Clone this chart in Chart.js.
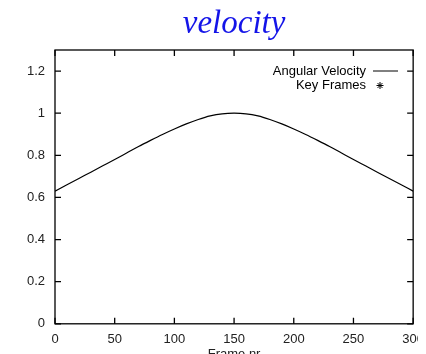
<!DOCTYPE html>
<html>
<head>
<meta charset="utf-8">
<script src="https://cdn.jsdelivr.net/npm/chart.js@4/dist/chart.umd.min.js"></script>
<style>
  body { margin: 0; background: #fff; }
  #wrap { width: 418px; height: 354px; overflow: hidden; position: relative; }
  #chart { position: absolute; left: 0; top: 0; }
</style>
</head>
<body>
<div id="wrap"><canvas id="chart" width="432" height="362"></canvas></div>
<script>
// frames and angular velocity
const frames = [0, 10, 20, 30, 40, 50, 60, 70, 80, 90, 100, 110, 120, 130, 140, 150,
  160, 170, 180, 190, 200, 210, 220, 230, 240, 250, 260, 270, 280, 290, 300];
const velocity = [0.63, 0.66, 0.69, 0.72, 0.75, 0.78, 0.811, 0.842, 0.871, 0.899, 0.925, 0.949, 0.97, 0.987, 0.997, 1.0,
  0.997, 0.987, 0.97, 0.949, 0.925, 0.899, 0.871, 0.842, 0.811, 0.78, 0.75, 0.72, 0.69, 0.66, 0.63];
const keyFrames = [];   // no key frame markers visible
const xTicks = [0, 50, 100, 150, 200, 250, 300];
const yTicks = [0, 0.2, 0.4, 0.6, 0.8, 1, 1.2];

const sans = "'Liberation Sans', Arial, sans-serif";

// gnuplot style frame, inward ticks on all sides, title and legend
const frameStuff = {
  id: "frameStuff",
  afterDraw(c) {
    const ctx = c.ctx, a = c.chartArea;
    const xs = c.scales.x, ys = c.scales.y;
    ctx.save();
    ctx.strokeStyle = "#000";
    ctx.lineWidth = 1.3;
    ctx.strokeRect(a.left, a.top, a.right - a.left, a.bottom - a.top);
    ctx.beginPath();
    xTicks.forEach(v => {
      const px = xs.getPixelForValue(v);
      ctx.moveTo(px, a.bottom); ctx.lineTo(px, a.bottom - 6);
      ctx.moveTo(px, a.top); ctx.lineTo(px, a.top + 6);
    });
    yTicks.forEach(v => {
      const py = ys.getPixelForValue(v);
      ctx.moveTo(a.left, py); ctx.lineTo(a.left + 6, py);
      ctx.moveTo(a.right, py); ctx.lineTo(a.right - 6, py);
    });
    ctx.stroke();

    // title
    ctx.fillStyle = "#1414e8";
    ctx.font = "italic 33px 'Liberation Serif', 'Times New Roman', serif";
    ctx.textAlign = "center";
    ctx.textBaseline = "alphabetic";
    ctx.fillText("velocity", (a.left + a.right) / 2, 33);

    // legend
    ctx.fillStyle = "#000";
    ctx.font = "13px " + sans;
    ctx.textAlign = "right";
    ctx.textBaseline = "middle";
    const lx = 366;
    c.data.datasets.forEach((ds, i) => {
      const y = 71 + i * 14.5;
      ctx.fillText(ds.label, lx, y);
      if (i === 0) {
        ctx.lineWidth = 1;
        ctx.beginPath();
        ctx.moveTo(373, y); ctx.lineTo(398, y);
        ctx.stroke();
      } else {
        ctx.lineWidth = 1;
        ctx.beginPath();
        const cx = 380, r = 3.5;
        ctx.moveTo(cx - r, y); ctx.lineTo(cx + r, y);
        ctx.moveTo(cx, y - r); ctx.lineTo(cx, y + r);
        ctx.moveTo(cx - r * 0.7, y - r * 0.7); ctx.lineTo(cx + r * 0.7, y + r * 0.7);
        ctx.moveTo(cx - r * 0.7, y + r * 0.7); ctx.lineTo(cx + r * 0.7, y - r * 0.7);
        ctx.stroke();
      }
    });
    ctx.restore();
  }
};

new Chart(document.getElementById("chart"), {
  type: "line",
  data: {
    datasets: [
      {
        label: "Angular Velocity",
        data: frames.map((f, i) => ({ x: f, y: velocity[i] })),
        borderColor: "#000",
        borderWidth: 1.2,
        pointRadius: 0,
        cubicInterpolationMode: "monotone"
      },
      {
        label: "Key Frames",
        data: keyFrames,
        showLine: false,
        pointStyle: "star",
        pointRadius: 4,
        borderColor: "#000"
      }
    ]
  },
  options: {
    responsive: false,
    animation: false,
    layout: { padding: { top: 50, right: 7, left: 0, bottom: 0 } },
    plugins: { legend: { display: false }, title: { display: false }, tooltip: { enabled: false } },
    scales: {
      x: {
        type: "linear",
        min: 0,
        max: 300,
        afterBuildTicks: s => { s.ticks = xTicks.map(v => ({ value: v })); },
        grid: { display: false, drawTicks: false },
        border: { display: false },
        ticks: { color: "#222", padding: 8, font: { family: sans, size: 13 } },
        title: { display: true, text: "Frame nr", color: "#222", padding: { top: -9, bottom: 0 }, font: { family: sans, size: 13 } }
      },
      y: {
        min: 0,
        max: 1.3,
        afterBuildTicks: s => { s.ticks = yTicks.map(v => ({ value: v })); },
        afterFit: s => { s.width = 55; },
        grid: { display: false, drawTicks: false },
        border: { display: false },
        ticks: { color: "#222", padding: 10, font: { family: sans, size: 13 },
          callback: v => String(Math.round(v * 10) / 10) }
      }
    }
  },
  plugins: [frameStuff]
});
</script>
</body>
</html>
